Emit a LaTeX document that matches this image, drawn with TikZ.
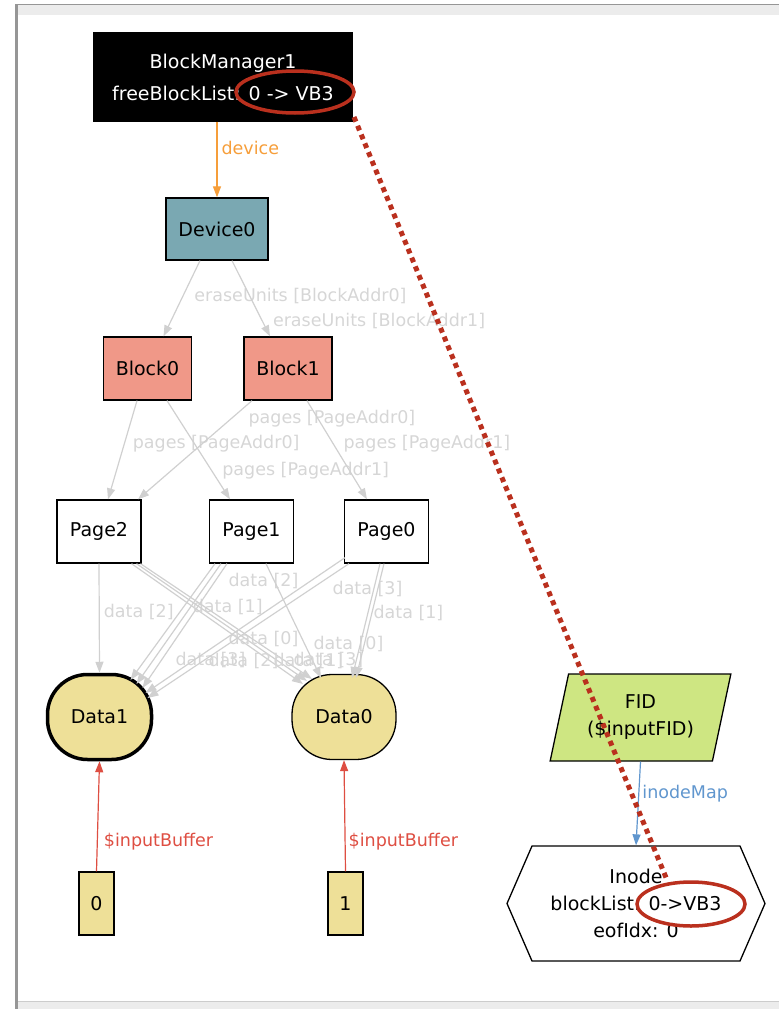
\documentclass[tikz,border=0pt]{standalone}
\usepackage{fontspec}
\setmainfont{DejaVu Sans}
\usetikzlibrary{arrows.meta,calc,shapes.geometric,shapes.symbols}
\definecolor{devfill}{RGB}{122,168,178}
\definecolor{blockfill}{RGB}{240,152,136}
\definecolor{datafill}{RGB}{238,224,152}
\definecolor{fidfill}{RGB}{206,230,130}
\definecolor{edgegray}{RGB}{208,208,208}
\definecolor{lblgray}{RGB}{214,214,214}
\definecolor{devorange}{RGB}{246,158,58}
\definecolor{bufred}{RGB}{222,78,66}
\definecolor{mapblue}{RGB}{96,150,206}
\definecolor{markred}{RGB}{186,48,30}
\definecolor{framegray}{RGB}{150,150,150}
\definecolor{barfill}{RGB}{236,236,236}
\newcommand{\nodefont}{\fontsize{19}{27}\selectfont}
\newcommand{\lblfont}{\fontsize{17.5}{20}\selectfont}

\begin{document}
\begin{tikzpicture}[x=1pt, y=-1pt,
    box/.style={draw, line width=1.3pt, inner sep=0pt, font=\nodefont, align=center},
    mgr/.style={box, fill=black, text=white, minimum width=258pt, minimum height=88pt,
      font=\fontsize{19}{32}\selectfont},
    dev/.style={box, fill=devfill, minimum width=102pt, minimum height=62pt},
    blk/.style={box, fill=blockfill, minimum width=88pt, minimum height=63pt},
    pg/.style={box, fill=white, minimum width=84pt, minimum height=63pt},
    dat/.style={box, fill=datafill, rounded corners=40pt, minimum width=104pt, minimum height=85pt},
    buf/.style={box, fill=datafill, minimum width=35pt, minimum height=63pt},
    fidbox/.style={box, fill=fidfill, trapezium, trapezium left angle=73, trapezium right angle=107,
      trapezium stretches=true, minimum width=181pt, minimum height=87pt},
    hex/.style={box, fill=white, signal, signal to=east and west, signal pointer angle=133,
      minimum width=258pt, minimum height=115pt},
    ring/.style={draw=markred, line width=3.5pt, ellipse, inner sep=0pt},
    lbl/.style={font=\lblfont, inner sep=0pt, anchor=west},
    gedge/.style={draw=edgegray, line width=1.2pt, -{Triangle[length=11pt,width=8pt]}},
    dotline/.style={draw=markred, line width=5pt, dash pattern=on 5pt off 4.5pt}]
  \useasboundingbox (0,0) rectangle (779,1009);
  \fill[barfill] (17,5) rectangle (779,15);
  \draw[framegray, line width=1pt] (15,4.5) -- (779,4.5);
  \fill[barfill] (17,1001) rectangle (779,1009);
  \draw[black!20, line width=1pt] (17,1001) -- (779,1001);
  \draw[framegray, line width=3pt] (16.5,4) -- (16.5,1009);

  \draw
    (223,77) node[mgr] (bm) {BlockManager1\\freeBlockList: 0 -> VB3}
    (217,229) node[dev] (dev) {Device0}
    (147.5,368.5) node[blk] (b0) {Block0}
    (288,368.5) node[blk] (b1) {Block1}
    (99,531.5) node[pg] (p2) {Page2}
    (251.5,531.5) node[pg] (p1) {Page1}
    (386.5,531.5) node[pg] (p0) {Page0}
    (99.5,717) node[dat, line width=3.5pt] (d1) {Data1}
    (344,717) node[dat] (d0) {Data0}
    (96.5,903.5) node[buf] (in0) {0}
    (345.5,903.5) node[buf] (in1) {1}
    (640.5,717.5) node[fidbox] (fid) {FID\\(\$inputFID)}
    (636,903.5) node[hex] (inode) {Inode\\blockList: 0->VB3\\eofIdx: 0};

  \begin{scope}[gedge]
    \draw ($(dev.south)+(-17,0)$) to node[lbl, text=lblgray, pos=.47, xshift=11pt] {eraseUnits [BlockAddr0]} ($(b0.north)+(16,0)$);
    \draw ($(dev.south)+(15,0)$) to node[lbl, text=lblgray, pos=.8, xshift=10pt] {eraseUnits [BlockAddr1]} ($(b1.north)+(-18,0)$);
    \draw ($(b0.south)+(-10.5,0)$) to node[lbl, text=lblgray, pos=.44, xshift=8pt] {pages [PageAddr0]} ($(p2.north)+(9,0)$);
    \draw ($(b0.south)+(19.5,0)$) to node[lbl, text=lblgray, pos=.71, xshift=10pt] {pages [PageAddr1]} ($(p1.north)+(-21.5,0)$);
    \draw ($(b1.south)+(-36,0)$) to node[lbl, text=lblgray, pos=.18, xshift=16.5pt] {pages [PageAddr0]} ($(p2.north)+(39,0)$);
    \draw ($(b1.south)+(19,0)$) to node[lbl, text=lblgray, pos=.44, xshift=9.6pt] {pages [PageAddr1]} ($(p0.north)+(-19.5,0)$);

    \draw (p2.south) to node[lbl, text=lblgray, pos=.44, xshift=4pt] {data [2]} (d1.north);
    \draw ($(p2.south)+(32.5,0)$) to node[lbl, text=lblgray, pos=.36, xshift=-1pt] {data [1]} ($(d0.center)+(-41,-33)$);
    \draw ($(p2.south)+(37.5,0)$) to node[lbl, text=lblgray, pos=.64, xshift=-17.6pt] {data [0]} ($(d0.center)+(-37,-36)$);
    \draw ($(p2.south)+(41.5,0)$) to node[lbl, text=lblgray, pos=.84, xshift=-11.6pt] {data [1]} ($(d0.center)+(-32,-38)$);
    \draw ($(p1.south)+(-36.5,0)$) to ($(d1.center)+(31,-37)$);
    \draw ($(p1.south)+(-30.5,0)$) to node[lbl, text=lblgray, pos=.8, xshift=21.6pt] {data [3]} ($(d1.center)+(37,-33)$);
    \draw ($(p1.south)+(-24.5,0)$) to node[lbl, text=lblgray, pos=.14, xshift=12.8pt] {data [2]} ($(d1.center)+(43,-29)$);
    \draw ($(p1.south)+(14.5,0)$) to node[lbl, text=lblgray, pos=.7, xshift=8.5pt] {data [0]} ($(d0.center)+(-23,-39)$);
    \draw ($(p0.south)+(-41.5,-6)$) to node[lbl, text=lblgray, pos=.76, xshift=14.6pt] {data [2]} ($(d1.center)+(46,-24)$);
    \draw ($(p0.south)+(-37.5,0)$) to node[lbl, text=lblgray, pos=.72, xshift=89pt] {data [3]} ($(d1.center)+(48,-19)$);
    \draw ($(p0.south)+(-6.5,0)$) to node[lbl, text=lblgray, pos=.22, xshift=-41.8pt] {data [3]} ($(d0.center)+(8,-39)$);
    \draw ($(p0.south)+(-2.5,0)$) to node[lbl, text=lblgray, pos=.43, xshift=1pt] {data [1]} ($(d0.center)+(12,-39)$);
  \end{scope}

  \draw[gedge, draw=devorange] (dev.north |- bm.south) to node[lbl, text=devorange, pos=.35, xshift=4pt] {device} (dev.north);
  \draw[gedge, draw=bufred] (in0.north) to node[lbl, text=bufred, pos=.27, xshift=6pt] {\$inputBuffer} (d1.south);
  \draw[gedge, draw=bufred] (in1.north) to node[lbl, text=bufred, pos=.27, xshift=3pt] {\$inputBuffer} (d0.south);
  \draw[gedge, draw=mapblue] (fid.south) to node[lbl, text=mapblue, pos=.38, xshift=3pt] {inodeMap} (inode.north);

  \node[ring, minimum width=118pt, minimum height=42pt] (ring1) at (295,92) {};
  \node[ring, minimum width=108pt, minimum height=44pt] (ring2) at (691,904) {};
  \draw[dotline] ($(ring1.center)+(59,25)$) -- ($(ring2.center)+(-24,-24)$);
\end{tikzpicture}
\end{document}
